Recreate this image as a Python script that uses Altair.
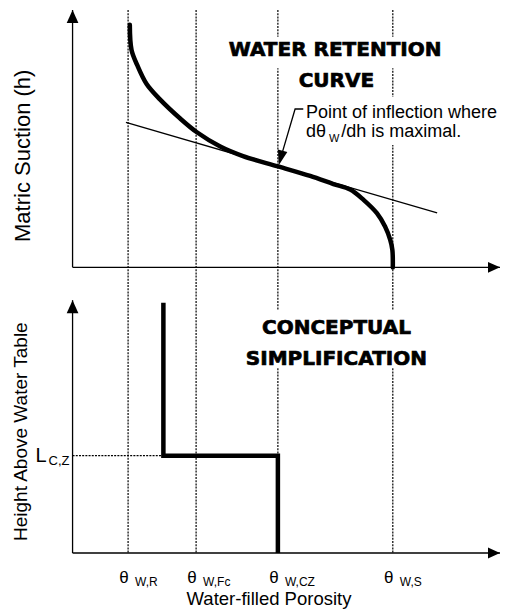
import altair as alt
import pandas as pd

# ---------------- data ----------------
theta_subs = ["W,R", "W,Fc", "W,CZ", "W,S"]
theta_values = [0.129, 0.287, 0.477, 0.744]

curve_theta = [0.133, 0.137, 0.150, 0.172, 0.203, 0.250, 0.288, 0.343, 0.396, 0.477,
               0.552, 0.606, 0.645, 0.676, 0.707, 0.726, 0.738, 0.743, 0.744]
curve_suction = [96.3, 86.3, 80.4, 72.8, 66.7, 59.1, 53.75, 48.0, 44.2, 40.1,
                 36.3, 33.1, 30.9, 26.8, 21.5, 16.2, 10.9, 6.9, 0.0]

tangent_theta = [0.124, 0.847]
tangent_suction = [57.6, 21.6]

step_theta = [0.211, 0.211, 0.477, 0.477]
step_height = [99.0, 38.5, 38.5, 0.0]
l_cz = 38.5

# ---------------- layout ----------------
W, H_TOP, H_BOT = 495, 277, 311
xs = alt.Scale(domain=[-0.15, 1.0], nice=False, zero=False)
ys_top = alt.Scale(domain=[-7, 103], nice=False, zero=False)
ys_bot = alt.Scale(domain=[-17, 106], nice=False, zero=False)
TOP_Y_END, BOT_Y_END, X_END = 102.2, 100.0, 0.993

UP = "M0,0L-0.9,2L0.9,2Z"
RIGHT = "M0,0L-2,-0.9L-2,0.9Z"
LEADER_HEAD = "M0,0L-0.65,2L0.65,2Z"
DOT = [2, 1.2]


def X(f="x"):
    return alt.X(f"{f}:Q", scale=xs, axis=None)


def Y(sc, f="y"):
    return alt.Y(f"{f}:Q", scale=sc, axis=None)


def df(**kw):
    return pd.DataFrame(kw)


def rules(data, sc, **mk):
    enc = dict(x=X(), y=Y(sc))
    if "x2" in data:
        enc["x2"] = "x2:Q"
    if "y2" in data:
        enc["y2"] = "y2:Q"
    return alt.Chart(data).mark_rule(color="black", **mk).encode(**enc)


def rects(data, sc):
    return alt.Chart(data).mark_rect(color="white", opacity=1).encode(
        x=X(), x2="x2:Q", y=Y(sc), y2="y2:Q")


def point(x, y, sc, shape, size, angle=0):
    return alt.Chart(df(x=[x], y=[y])).mark_point(
        shape=shape, size=size, filled=True, color="black", opacity=1,
        strokeWidth=0, angle=angle).encode(x=X(), y=Y(sc))


def text(data, sc, **mk):
    base = dict(color="black", font="Liberation Sans", baseline="alphabetic")
    base.update(mk)
    return alt.Chart(data).mark_text(**base).encode(x=X(), y=Y(sc), text="t:N")


BOLD = dict(font="DejaVu Sans", fontWeight="bold", fontSize=20, align="center",
            stroke="black", strokeWidth=0.7)

# ---------------- top panel ----------------
top_layers = [
    rules(df(x=theta_values, y=[TOP_Y_END] * 4, y2=[-7] * 4), ys_top,
          strokeWidth=1.2, strokeDash=DOT),
    rects(df(x=[0.36, 0.53], x2=[0.86, 1.0], y=[79.1, 48.6], y2=[91.6, 67.7]), ys_top),
    rules(df(x=[0, 0], x2=[0, X_END], y=[0, 0], y2=[TOP_Y_END, 0]), ys_top, strokeWidth=1.3),
    point(0, TOP_Y_END, ys_top, UP, 169),
    point(X_END, 0, ys_top, RIGHT, 144),
    alt.Chart(df(x=tangent_theta, y=tangent_suction)).mark_line(
        color="black", strokeWidth=1.3).encode(x=X(), y=Y(ys_top)),
    alt.Chart(df(x=curve_theta, y=curve_suction, o=list(range(len(curve_theta))))).mark_line(
        color="black", strokeWidth=4.5, interpolate="catmull-rom", strokeCap="round").encode(
        x=X(), y=Y(ys_top), order="o:Q"),
    text(df(x=[0.61, 0.613], y=[83.9, 71.75], t=["WATER RETENTION", "CURVE"]), ys_top, **BOLD),
    text(df(x=[0.5423], y=[59.4], t=["Point of inflection where"]), ys_top, fontSize=18, align="left"),
    text(df(x=[0.5423], y=[51.9], t=["dθ"]), ys_top, fontSize=18, align="left"),
    text(df(x=[0.596], y=[49.6], t=["W"]), ys_top, fontSize=11, align="left"),
    text(df(x=[0.624], y=[51.9], t=["/dh is maximal."]), ys_top, fontSize=18, align="left"),
    alt.Chart(df(x=[0.536, 0.517, 0.481], y=[62.9, 62.9, 42.0], o=[0, 1, 2])).mark_line(
        color="black", strokeWidth=1.3).encode(x=X(), y=Y(ys_top), order="o:Q"),
    point(0.479, 40.6, ys_top, LEADER_HEAD, 225, angle=195),
    text(df(x=[-0.0989], y=[44.3], t=["Matric Suction (h)"]), ys_top,
         fontSize=22, align="center", angle=270),
]
top = alt.layer(*top_layers).properties(width=W, height=H_TOP)

# ---------------- bottom panel ----------------
bot_layers = [
    rules(df(x=theta_values, y=[106] * 4, y2=[0] * 4), ys_bot, strokeWidth=1.2, strokeDash=DOT),
    rects(df(x=[0.37], x2=[0.87], y=[73.6], y2=[96.1]), ys_bot),
    rules(df(x=[0], x2=[step_theta[0]], y=[l_cz]), ys_bot, strokeWidth=1.2, strokeDash=DOT),
    rules(df(x=[0, 0], x2=[0, X_END], y=[0, 0], y2=[BOT_Y_END, 0]), ys_bot, strokeWidth=1.3),
    point(0, BOT_Y_END, ys_bot, UP, 169),
    point(X_END, 0, ys_bot, RIGHT, 144),
    alt.Chart(df(x=step_theta, y=step_height, o=[0, 1, 2, 3])).mark_line(
        color="black", strokeWidth=4.5, strokeCap="butt", strokeJoin="miter").encode(
        x=X(), y=Y(ys_bot), order="o:Q"),
    text(df(x=[0.613, 0.613], y=[86.6, 74.4], t=["CONCEPTUAL", "SIMPLIFICATION"]), ys_bot, **BOLD),
    text(df(x=theta_values, y=[0] * 4, t=["θ"] * 4), ys_bot, fontSize=17, align="center", dx=-4, dy=29.5),
    text(df(x=theta_values, y=[0] * 4, t=theta_subs), ys_bot, fontSize=12, align="left", dx=7, dy=33),
    text(df(x=[0.4564], y=[0], t=["Water-filled Porosity"]), ys_bot, fontSize=18.5, align="center", dy=52),
    text(df(x=[0], y=[l_cz], t=["L"]), ys_bot, fontSize=20, align="right", dx=-26, dy=6),
    text(df(x=[0], y=[l_cz], t=["C,Z"]), ys_bot, fontSize=13, align="right", dx=-3, dy=9),
    text(df(x=[-0.1066], y=[48.0], t=["Height Above Water Table"]), ys_bot,
         fontSize=19, align="center", angle=270),
]
bot = alt.layer(*bot_layers).properties(width=W, height=H_BOT)

chart = alt.vconcat(top, bot, spacing=0, bounds="flush").properties(
    padding=0).configure_view(stroke=None)

chart.save("out.html", embed_options={"renderer": "svg", "actions": False})
